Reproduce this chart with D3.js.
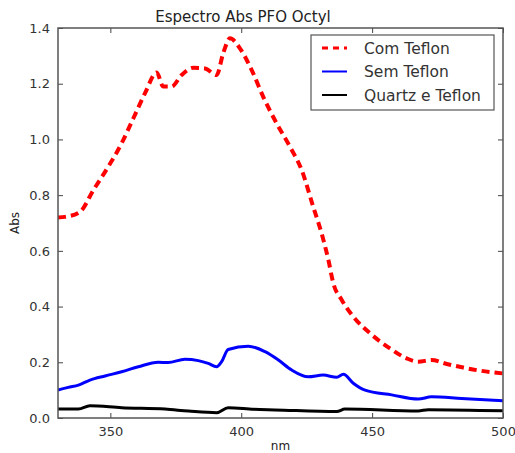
<!DOCTYPE html>
<html>
<head>
<meta charset="utf-8">
<script src="https://cdn.jsdelivr.net/npm/d3@7"></script>
<style>
  body { margin: 0; background: #fff; }
  text { font-family: "DejaVu Sans", sans-serif; fill: #222; }
</style>
</head>
<body>
<div id="chart"></div>
<script>
// Com Teflon (red dashed)
let comNm  = [330, 332.7, 338.4, 343.5, 349.2, 354.3, 358.8, 363.2, 367.7, 370.2, 373.4, 377.2, 381.7, 386.1, 390.6, 393.1, 395.7, 399.5, 404, 408.4, 413.5, 418.6, 423.1, 427.5, 430.7, 433.3, 435.2, 438.4, 442.8, 449.2, 456.8, 463.2, 467.6, 472.7, 478.5, 484.8, 491.2, 500];
let comAbs = [0.72, 0.722, 0.74, 0.818, 0.902, 0.986, 1.076, 1.165, 1.24, 1.19, 1.19, 1.231, 1.257, 1.255, 1.231, 1.309, 1.363, 1.327, 1.249, 1.153, 1.058, 0.974, 0.89, 0.758, 0.663, 0.567, 0.483, 0.424, 0.364, 0.304, 0.25, 0.214, 0.202, 0.208, 0.194, 0.181, 0.17, 0.16];

// Sem Teflon (blue)
let semNm  = [330, 333.9, 337.8, 342.2, 348, 354.3, 360.7, 368.3, 372.1, 378.5, 383.6, 387.4, 390.6, 392.5, 395, 402.7, 409.1, 414.2, 419.3, 425.6, 431.3, 436.5, 439, 442.8, 447.3, 457.5, 467.6, 472.7, 484.2, 500];
let semAbs = [0.1, 0.11, 0.118, 0.136, 0.151, 0.166, 0.184, 0.2, 0.199, 0.211, 0.206, 0.196, 0.184, 0.202, 0.246, 0.258, 0.238, 0.208, 0.172, 0.148, 0.154, 0.146, 0.157, 0.125, 0.1, 0.083, 0.068, 0.076, 0.07, 0.062];

// Quartz e Teflon (black)
let quartzNm  = [330, 337.8, 342.2, 354.3, 370.9, 379.8, 390.6, 395, 404.8, 412.9, 436.5, 439.6, 467.6, 471.4, 500];
let quartzAbs = [0.032, 0.032, 0.044, 0.037, 0.032, 0.025, 0.019, 0.037, 0.031, 0.029, 0.023, 0.032, 0.025, 0.03, 0.026];

let xTicks = [350, 400, 450, 500];
let yTicks = [0, 0.2, 0.4, 0.6, 0.8, 1.0, 1.2, 1.4];

let series = [
  { name: "Com Teflon", nm: comNm, abs: comAbs, color: "#ff0000", width: 4, dash: "8,5" },
  { name: "Sem Teflon", nm: semNm, abs: semAbs, color: "#0000ff", width: 3, dash: null },
  { name: "Quartz e Teflon", nm: quartzNm, abs: quartzAbs, color: "#000000", width: 3, dash: null }
];

let width = 515, height = 453;
let margin = { top: 28, right: 12, bottom: 35, left: 58 };
let innerW = width - margin.left - margin.right;
let innerH = height - margin.top - margin.bottom;

let svg = d3.select("#chart").append("svg")
    .attr("width", width)
    .attr("height", height);

let g = svg.append("g")
    .attr("transform", `translate(${margin.left}, ${margin.top})`);

let x = d3.scaleLinear().domain([330, 500]).range([0, innerW]);
let y = d3.scaleLinear().domain([0, 1.4]).range([innerH, 0]);

// clip lines to plot area
svg.append("defs").append("clipPath").attr("id", "clip")
    .append("rect").attr("width", innerW).attr("height", innerH);

let line = d3.line()
    .x(function(d) { return x(d[0]); })
    .y(function(d) { return y(d[1]); })
    .curve(d3.curveMonotoneX);

let lines = g.append("g").attr("clip-path", "url(#clip)");
series.forEach(function(s) {
    lines.append("path")
        .datum(d3.zip(s.nm, s.abs))
        .attr("fill", "none")
        .attr("stroke", s.color)
        .attr("stroke-width", s.width)
        .attr("stroke-dasharray", s.dash)
        .attr("stroke-linejoin", "round")
        .attr("d", line);
});

// Axes: ticks inside, on all four sides
let fmt = d3.format(".1f");
let axBottom = g.append("g").attr("transform", `translate(0, ${innerH})`)
    .call(d3.axisBottom(x).tickValues(xTicks).tickSizeInner(-5).tickSizeOuter(0).tickPadding(9));
let axTop = g.append("g")
    .call(d3.axisTop(x).tickValues(xTicks).tickSizeInner(-5).tickSizeOuter(0).tickFormat(""));
let axLeft = g.append("g")
    .call(d3.axisLeft(y).tickValues(yTicks).tickSizeInner(-5).tickSizeOuter(0).tickPadding(8).tickFormat(fmt));
let axRight = g.append("g").attr("transform", `translate(${innerW}, 0)`)
    .call(d3.axisRight(y).tickValues(yTicks).tickSizeInner(-5).tickSizeOuter(0).tickFormat(""));

[axBottom, axTop, axLeft, axRight].forEach(function(a) {
    a.select(".domain").remove();
    a.selectAll("line").attr("stroke", "#444");
    a.selectAll("text").style("font-size", "13px").style("fill", "#333");
});

// Frame
g.append("rect")
    .attr("width", innerW).attr("height", innerH)
    .attr("fill", "none").attr("stroke", "#555").attr("stroke-width", 1.5);

// Title and axis labels
svg.append("text")
    .attr("x", 243).attr("y", 22)
    .style("text-anchor", "middle")
    .style("font-size", "15px")
    .text("Espectro Abs PFO Octyl");

svg.append("text")
    .attr("x", margin.left + innerW / 2).attr("y", 450)
    .style("text-anchor", "middle")
    .style("font-size", "12px")
    .text("nm");

svg.append("text")
    .attr("transform", `translate(19, ${margin.top + innerH / 2}) rotate(-90)`)
    .style("text-anchor", "middle")
    .style("font-size", "12px")
    .text("Abs");

// Legend
let legend = svg.append("g").attr("transform", "translate(311, 35)");
legend.append("rect")
    .attr("width", 183).attr("height", 75)
    .attr("fill", "#fff").attr("stroke", "#555").attr("stroke-width", 1.2);
series.forEach(function(s, i) {
    let yy = 13 + i * 23.5;
    legend.append("line")
        .attr("x1", 11).attr("x2", 36).attr("y1", yy).attr("y2", yy)
        .attr("stroke", s.color)
        .attr("stroke-width", s.width - 1)
        .attr("stroke-dasharray", s.dash ? "6,5" : null);
    legend.append("text")
        .attr("x", 53).attr("y", yy + 5.5)
        .style("font-size", "15.5px")
        .style("fill", "#333")
        .text(s.name);
});
</script>
</body>
</html>
